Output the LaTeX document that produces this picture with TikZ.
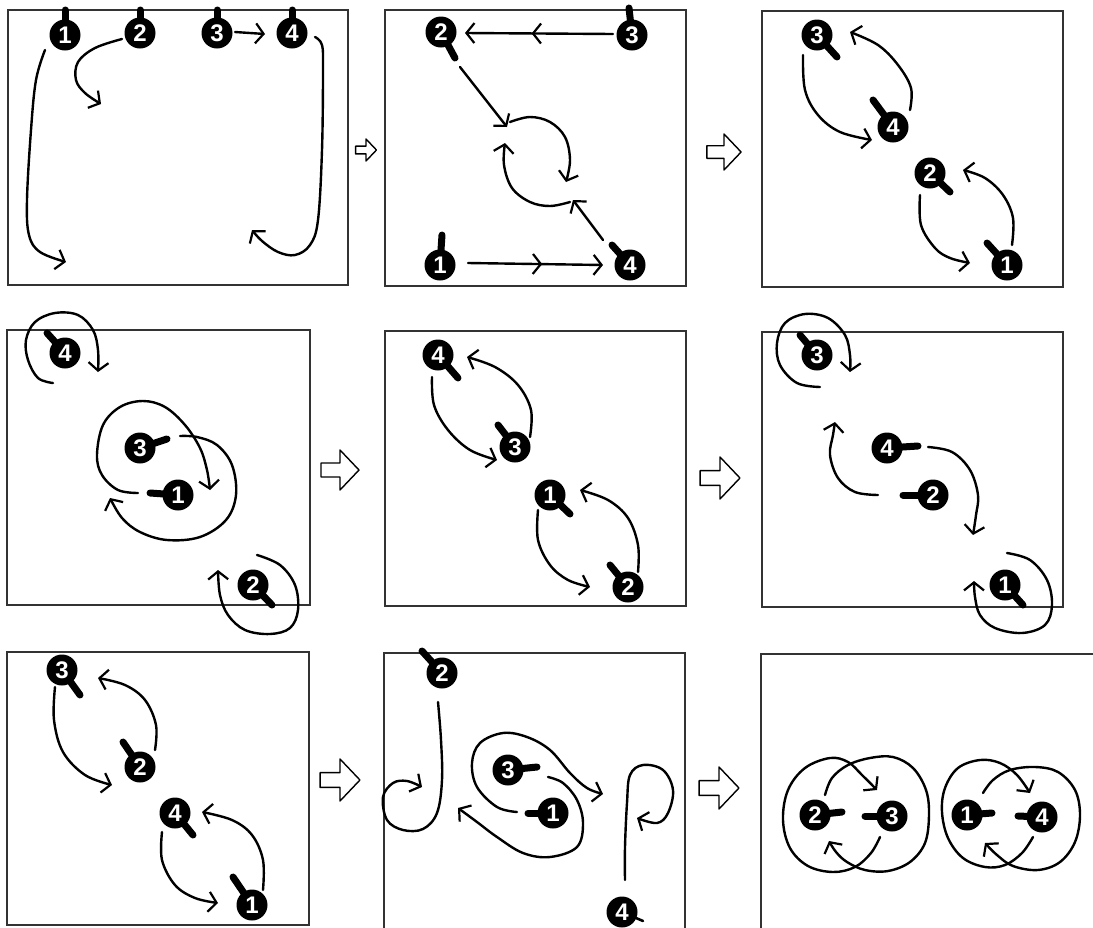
\documentclass[tikz,border=0pt]{standalone}
\usepackage{fontspec}
\setsansfont{Liberation Sans}
\usetikzlibrary{arrows.meta,decorations.markings}
\newcommand\dancer[6]{%
  \draw[handle] (#2,#3) -- ++(#5,#6);
  \node[dancer] (#1) at (#2,#3) {#4};}
\newcommand\blockarr[4]{%
  \coordinate (#1) at (#2,#3);
  \draw[blk] (#1) ++(-19*#4,-7*#4) -- ++(19*#4,0) -- ++(0,-13*#4) -- ++(19*#4,20*#4)
     -- ++(-19*#4,20*#4) -- ++(0,-13*#4) -- ++(-19*#4,0) -- cycle;}
\begin{document}
\begin{tikzpicture}[x=1pt,y=-1pt,
  frame/.style={draw=black!80, line width=1.1pt},
  mv/.style={line width=2.4pt, line cap=round, line join=round,
     -{Straight Barb[length=8pt,width=20pt,line width=2.2pt]}},
  mid/.style={postaction={decorate}, decoration={markings,
     mark=at position #1 with {\arrow{Straight Barb[length=8pt,width=20pt,line width=2.2pt]}}}},
  dancer/.style={circle, fill=black, minimum size=31pt, inner sep=0pt, text=white,
     font=\sffamily\bfseries\fontsize{24}{24}\selectfont},
  handle/.style={line width=7pt, line cap=round},
  blk/.style={draw=black, line width=1.4pt, line join=round, fill=white}]
\useasboundingbox (0,0) rectangle (1093,927);
\fill[white] (0,0) rectangle (1093,927);
% frames
\draw[frame] (8,10) rectangle (348,285);
\draw[frame] (385,10) rectangle (686,286);
\draw[frame] (762,11) rectangle (1063,287);
\draw[frame] (7,330) rectangle (310,605);
\draw[frame] (385,331) rectangle (686,606);
\draw[frame] (762,332) rectangle (1063,607);
\draw[frame] (7,652) rectangle (309,925);
\draw[frame] (384,653) rectangle (685,940);
\draw[frame] (761,654) rectangle (1110,940);
% block arrows between panels
\blockarr{s12}{366}{150}{0.55}
\blockarr{s23}{724}{152}{0.9}
\blockarr{s45}{340}{470}{1}
\blockarr{s56}{720}{478}{1.05}
\blockarr{s78}{340}{780}{1.05}
\blockarr{s89}{719}{788}{1.05}
% ---------- panel 1
\draw[mv] plot[smooth,tension=0.6] coordinates {(45,50) (36,80) (31,130) (27,200) (29,235) (40,252) (66,262)};
\draw[mv] plot[smooth,tension=0.6] coordinates {(122,39) (95,48) (78,62) (76,80) (85,93) (101,104)};
\draw[mv] (235,32) -- (265,34);
\draw[mv] plot[smooth,tension=0.6] coordinates {(315,37) (322,45) (323,70) (322,150) (318,220) (310,245) (295,255) (278,252) (262,241) (252,230)};
\dancer{a1}{65}{35}{1}{0}{-25}
\dancer{a2}{140}{33}{2}{0}{-23}
\dancer{a3}{217}{33}{3}{0}{-23}
\dancer{a4}{292}{33}{4}{0}{-23}
% ---------- panel 2
\draw[mv,mid=0.55] (613,34) -- (465,33);
\draw[mv] (460,67) -- (507,127);
\draw[mv] plot[smooth,tension=0.6] coordinates {(510,122) (530,117) (550,122) (565,137) (570,160) (566,182)};
\draw[mv] plot[smooth,tension=0.6] coordinates {(570,202) (550,206) (530,202) (512,188) (504,165) (505,143)};
\draw[mv] (603,240) -- (573,200);
\draw[mv,mid=0.55] (468,263) -- (603,265);
\dancer{b2}{441}{32}{2}{14}{26}
\dancer{b3}{632}{35}{3}{-3}{-27}
\dancer{b1}{440}{265}{1}{2}{-30}
\dancer{b4}{630}{265}{4}{-18}{-20}
% ---------- panel 3
\draw[mv] plot[smooth,tension=0.6] coordinates {(803,55) (805,90) (818,115) (840,132) (872,140)};
\draw[mv] plot[smooth,tension=0.6] coordinates {(910,110) (911,88) (898,65) (878,45) (850,32)};
\draw[mv] plot[smooth,tension=0.6] coordinates {(920,195) (921,225) (935,248) (950,258) (970,263)};
\draw[mv] plot[smooth,tension=0.6] coordinates {(1012,245) (1013,218) (1003,195) (985,178) (963,170)};
\dancer{c3}{817}{35}{3}{20}{22}
\dancer{c4}{893}{127}{4}{-20}{-27}
\dancer{c2}{930}{173}{2}{20}{19}
\dancer{c1}{1007}{265}{1}{-20}{-22}
% ---------- panel 4
\draw[mv] plot[smooth,tension=0.6] coordinates {(53,383) (38,378) (28,360) (26,340) (35,322) (55,313) (78,315) (93,330) (98,350) (98,372)};
\draw[mv] plot[smooth,tension=0.6] coordinates {(138,493) (118,490) (102,475) (97,455) (103,425) (120,407) (143,401) (165,407) (185,425) (200,448) (207,470) (210,490)};
\draw[mv] plot[smooth,tension=0.6] coordinates {(180,436) (197,437) (217,445) (232,465) (236,495) (226,520) (200,537) (167,540) (140,532) (122,518) (110,498)};
\draw[mv] plot[smooth,tension=0.6] coordinates {(257,555) (280,565) (295,585) (298,610) (290,628) (270,634) (245,630) (228,615) (220,595) (218,570)};
\dancer{d4}{65}{353}{4}{-18}{-20}
\dancer{d3}{140}{448}{3}{27}{-9}
\dancer{d1}{178}{495}{1}{-28}{-2}
\dancer{d2}{253}{585}{2}{19}{20}
% ---------- panel 5
\draw[mv] plot[smooth,tension=0.6] coordinates {(432,377) (434,405) (448,430) (470,450) (497,460)};
\draw[mv] plot[smooth,tension=0.6] coordinates {(530,437) (531,410) (518,385) (495,367) (467,357)};
\draw[mv] plot[smooth,tension=0.6] coordinates {(538,510) (538,540) (550,565) (568,580) (590,587)};
\draw[mv] plot[smooth,tension=0.6] coordinates {(638,572) (638,545) (628,518) (608,500) (580,490)};
\dancer{e4}{438}{355}{4}{20}{23}
\dancer{e3}{515}{447}{3}{-17}{-22}
\dancer{e1}{550}{495}{1}{20}{19}
\dancer{e2}{628}{587}{2}{-18}{-22}
% ---------- panel 6
\draw[mv] plot[smooth,tension=0.6] coordinates {(820,387) (797,383) (780,365) (777,343) (785,323) (805,314) (828,318) (845,335) (850,355) (850,372)};
\draw[mv] plot[smooth,tension=0.6] coordinates {(878,495) (855,492) (838,478) (830,455) (833,435) (835,422)};
\draw[mv] plot[smooth,tension=0.6] coordinates {(928,447) (952,452) (970,470) (978,495) (976,515) (973,535)};
\draw[mv] plot[smooth,tension=0.6] coordinates {(1007,553) (1030,560) (1047,580) (1052,605) (1045,625) (1022,633) (995,628) (980,615) (975,597) (974,581)};
\dancer{f3}{817}{355}{3}{-17}{-20}
\dancer{f4}{887}{448}{4}{31}{-2}
\dancer{f2}{933}{495}{2}{-30}{0}
\dancer{f1}{1005}{585}{1}{18}{20}
% ---------- panel 7
\draw[mv] plot[smooth,tension=0.6] coordinates {(55,687) (54,720) (63,752) (85,775) (112,785)};
\draw[mv] plot[smooth,tension=0.6] coordinates {(155,750) (156,725) (145,700) (125,685) (98,678)};
\draw[mv] plot[smooth,tension=0.6] coordinates {(162,832) (162,860) (175,885) (195,898) (218,903)};
\draw[mv] plot[smooth,tension=0.6] coordinates {(263,890) (263,860) (252,835) (232,820) (202,812)};
\dancer{g3}{62}{670}{3}{18}{25}
\dancer{g2}{140}{767}{2}{-17}{-25}
\dancer{g4}{175}{813}{4}{18}{22}
\dancer{g1}{252}{905}{1}{-19}{-28}
% ---------- panel 8
\draw[mv] plot[smooth,tension=0.6] coordinates {(438,702) (441,740) (442,780) (437,813) (423,829) (403,830) (387,820) (383,797) (393,783) (407,781) (422,787)};
\draw[mv] plot[smooth,tension=0.6] coordinates {(517,812) (497,807) (477,787) (472,763) (480,743) (503,733) (527,737) (550,750) (570,773) (587,788) (603,794)};
\draw[mv] plot[smooth,tension=0.6] coordinates {(548,777) (563,783) (577,800) (583,823) (577,847) (550,857) (523,853) (497,837) (477,822) (458,808)};
\draw[mv] plot[smooth,tension=0.6] coordinates {(625,880) (625,847) (627,803) (630,775) (643,765) (663,770) (673,790) (668,813) (657,823) (637,818)};
\dancer{h2}{442}{673}{2}{-20}{-22}
\dancer{h3}{508}{770}{3}{29}{-3}
\dancer{h1}{553}{813}{1}{-25}{0}
\draw[line width=2.6pt, line cap=round] (622,912) -- ++(21,9);
\node[dancer] (h4) at (622,912) {4};
% ---------- panel 9
\draw[mv] plot[smooth,tension=0.6] coordinates {(825,795) (832,778) (848,765) (870,758) (893,757) (913,768) (926,790) (929,815) (925,843) (910,862) (888,871) (865,870) (847,862) (836,852) (829,841)};
\draw[mv] plot[smooth,tension=0.6] coordinates {(880,837) (871,853) (855,867) (833,872) (808,866) (790,848) (783,820) (788,790) (805,768) (830,758) (848,762) (862,775) (877,790)};
\draw[mv] plot[smooth,tension=0.6] coordinates {(983,793) (993,780) (1010,770) (1035,767) (1058,772) (1075,790) (1080,815) (1075,842) (1060,862) (1038,870) (1013,866) (997,855) (985,843)};
\draw[mv] plot[smooth,tension=0.6] coordinates {(1033,837) (1022,853) (1005,865) (985,867) (963,858) (948,838) (942,812) (945,788) (958,768) (980,760) (1000,763) (1017,775) (1030,793)};
\dancer{i2}{815}{815}{2}{27}{-3}
\dancer{i3}{892}{816}{3}{-27}{0}
\dancer{i1}{967}{815}{1}{25}{-2}
\dancer{i4}{1042}{817}{4}{-24}{-1}
\end{tikzpicture}
\end{document}
